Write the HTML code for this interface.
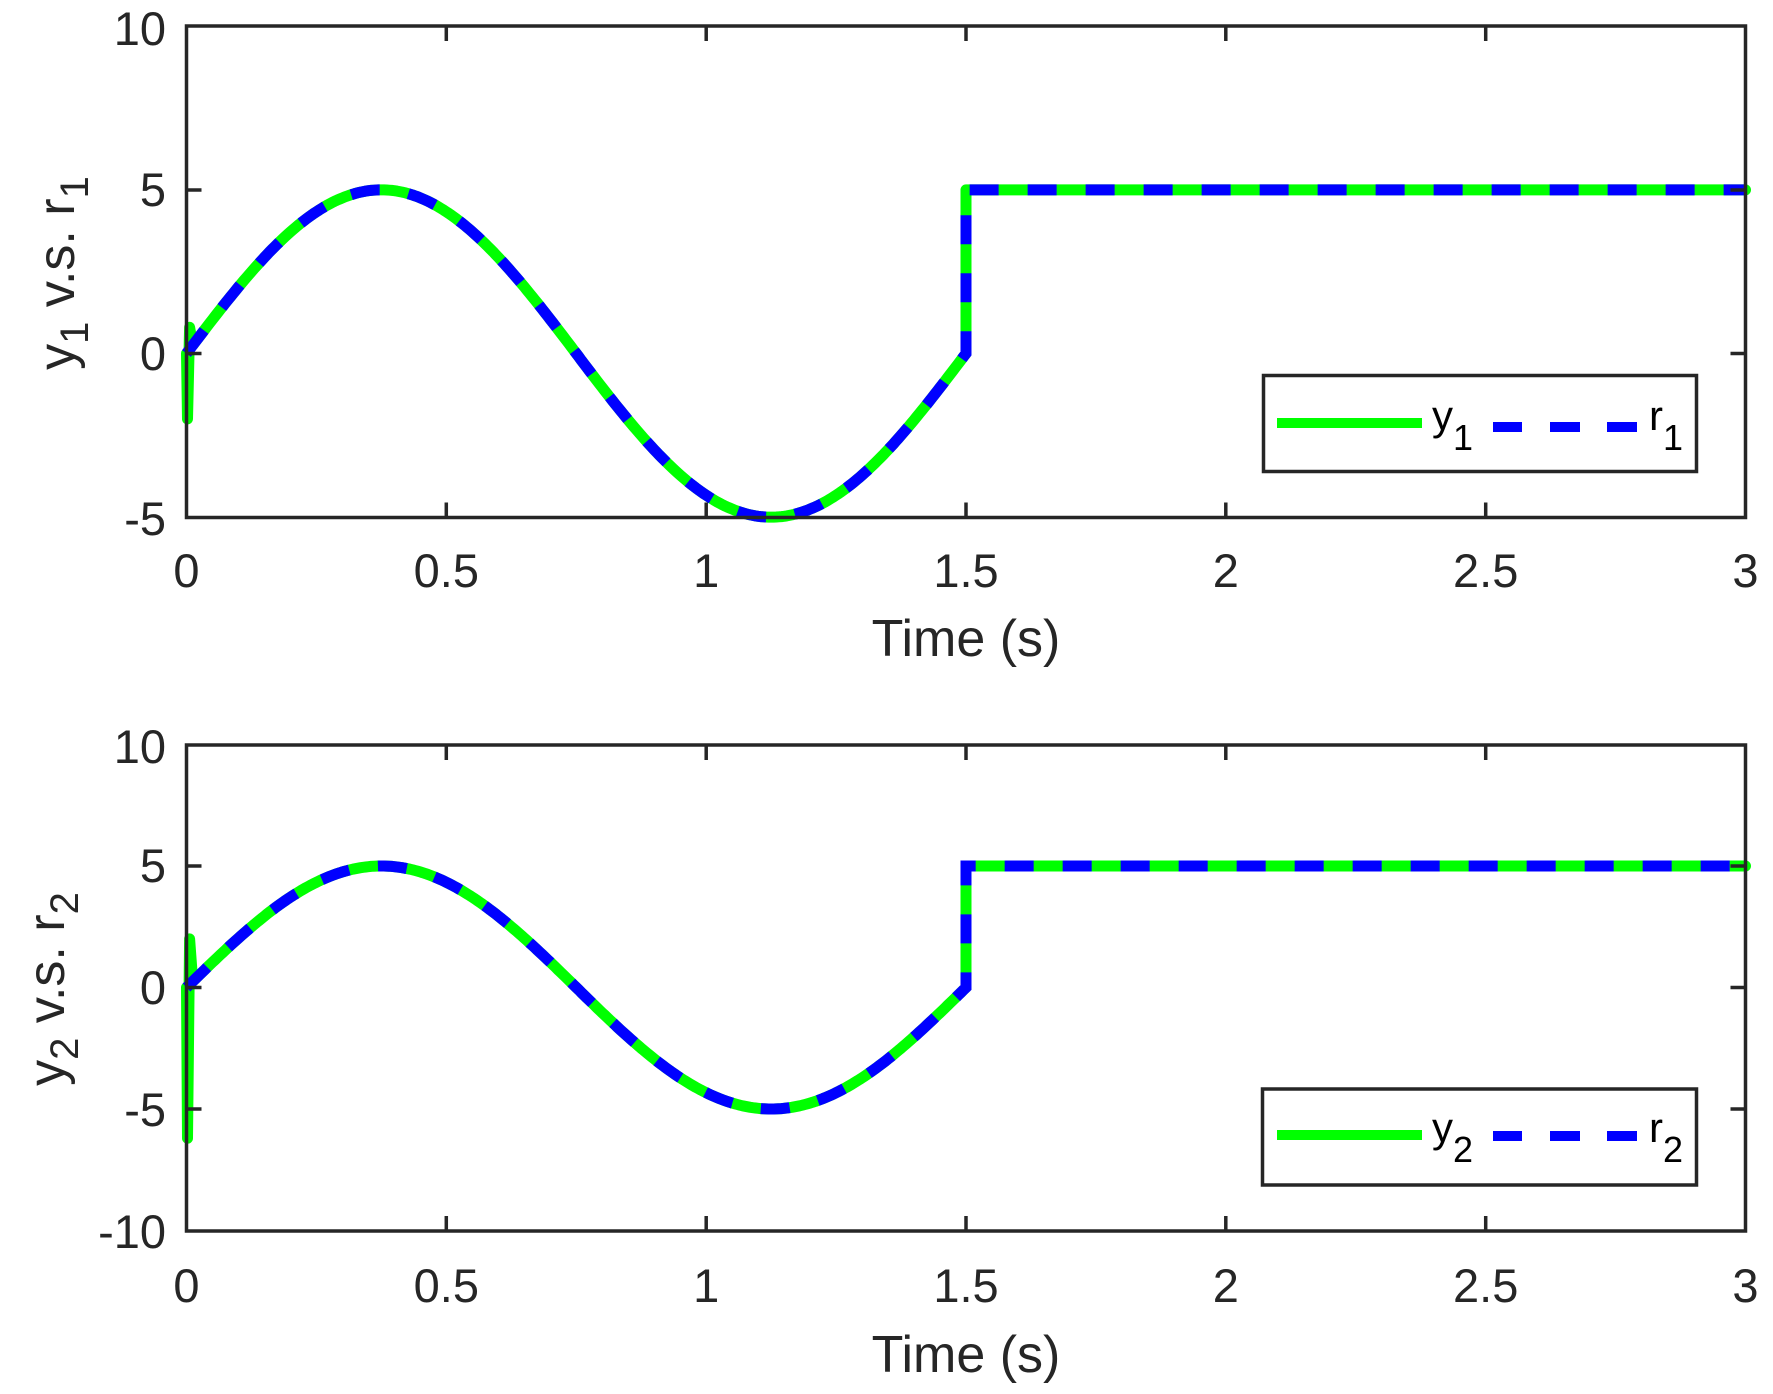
<!DOCTYPE html>
<html><head><meta charset="utf-8"><style>
html,body{margin:0;padding:0;background:#fff;}
svg{display:block;}
text{font-family:"Liberation Sans",Arial,sans-serif;fill:#262626;}
</style></head><body>
<svg id="s" width="1773" height="1394" viewBox="0 0 1773 1394" xmlns="http://www.w3.org/2000/svg">
<rect width="1773" height="1394" fill="#fff"/>
<g id="plots"></g>
<g stroke="#262626" stroke-width="3.5" fill="none">
<rect x="186.5" y="26" width="1559" height="491.5"/>
<path d="M446.3 517.5v-15M706.2 517.5v-15M966 517.5v-15M1225.8 517.5v-15M1485.7 517.5v-15
M446.3 26v15M706.2 26v15M966 26v15M1225.8 26v15M1485.7 26v15
M186.5 190h15M186.5 353.5h15M1745.5 190h-15M1745.5 353.5h-15"/>
<rect x="186.5" y="745" width="1559" height="486"/>
<path d="M446.3 1231v-15M706.2 1231v-15M966 1231v-15M1225.8 1231v-15M1485.7 1231v-15
M446.3 745v15M706.2 745v15M966 745v15M1225.8 745v15M1485.7 745v15
M186.5 866h15M186.5 987.5h15M186.5 1109h15M1745.5 866h-15M1745.5 987.5h-15M1745.5 1109h-15"/>
</g>
<g font-size="47" text-anchor="end">
<text x="166" y="45">10</text><text x="166" y="206">5</text><text x="166" y="370">0</text><text x="166" y="535">-5</text>
<text x="166" y="763">10</text><text x="166" y="882">5</text><text x="166" y="1004">0</text><text x="166" y="1126">-5</text><text x="166" y="1248">-10</text>
</g>
<g font-size="47" text-anchor="middle">
<text x="186.5" y="587">0</text><text x="446.3" y="587">0.5</text><text x="706.2" y="587">1</text><text x="966" y="587">1.5</text><text x="1225.8" y="587">2</text><text x="1485.7" y="587">2.5</text><text x="1745.5" y="587">3</text>
<text x="186.5" y="1302">0</text><text x="446.3" y="1302">0.5</text><text x="706.2" y="1302">1</text><text x="966" y="1302">1.5</text><text x="1225.8" y="1302">2</text><text x="1485.7" y="1302">2.5</text><text x="1745.5" y="1302">3</text>
</g>
<g font-size="52" text-anchor="middle">
<text x="966" y="656">Time (s)</text>
<text x="966" y="1372">Time (s)</text>
</g>
<g font-size="52" text-anchor="middle" style="fill:#404040">
<text transform="translate(74,273) rotate(-90)">y<tspan font-size="40" dy="14">1</tspan><tspan dy="-14"> v.s. r</tspan><tspan font-size="40" dy="14">1</tspan></text>
<text transform="translate(64,989) rotate(-90)">y<tspan font-size="40" dy="14">2</tspan><tspan dy="-14"> v.s. r</tspan><tspan font-size="40" dy="14">2</tspan></text>
</g>
<g>
<rect x="1263.5" y="375.5" width="433" height="96" fill="#fff" stroke="#262626" stroke-width="3.5"/>
<line x1="1277" y1="423" x2="1422" y2="423" stroke="#00ff00" stroke-width="10"/>
<path d="M1493 427h29M1550 427h30M1607 427h30" stroke="#0000ff" stroke-width="10"/>
<text x="1432" y="430" font-size="42" style="fill:#000">y<tspan font-size="36" dy="20">1</tspan></text>
<text x="1649" y="430" font-size="42" style="fill:#000">r<tspan font-size="36" dy="20">1</tspan></text>
<rect x="1262.5" y="1089" width="434" height="96" fill="#fff" stroke="#262626" stroke-width="3.5"/>
<line x1="1277" y1="1135" x2="1422" y2="1135" stroke="#00ff00" stroke-width="10"/>
<path d="M1493 1136h29M1550 1136h30M1607 1136h30" stroke="#0000ff" stroke-width="10"/>
<text x="1432" y="1142" font-size="42" style="fill:#000">y<tspan font-size="36" dy="20">2</tspan></text>
<text x="1649" y="1142" font-size="42" style="fill:#000">r<tspan font-size="36" dy="20">2</tspan></text>
</g>
</svg>
<script>
(function(){
var g=document.getElementById('plots');
var X=function(t){return 186.5+t*519.67;};
function build(y0,k,spikeLo,spikeHi){
 var Y=function(v){return y0-v*k;};
 var r=[],y=[];
 for(var i=0;i<=300;i++){var t=1.5*i/300;var v=5*Math.sin(2*Math.PI*t/1.5);r.push([X(t),Y(v)]);}
 r.push([X(1.5),Y(5)]);r.push([X(3),Y(5)]);
 y.push([X(0),Y(0)]);y.push([X(0.002),Y(spikeLo)]);y.push([X(0.006),Y(spikeHi)]);y.push([X(0.012),Y(5*Math.sin(2*Math.PI*0.012/1.5))]);
 for(var i=4;i<=300;i++){var t=1.5*i/300;y.push([X(t),Y(5*Math.sin(2*Math.PI*t/1.5))]);}
 y.push([X(1.5),Y(5)]);y.push([X(3),Y(5)]);
 function d(a){return 'M'+a.map(function(p){return p[0].toFixed(1)+' '+p[1].toFixed(1);}).join('L');}
 var ns='http://www.w3.org/2000/svg';
 var p1=document.createElementNS(ns,'path');p1.setAttribute('d',d(y));p1.setAttribute('fill','none');p1.setAttribute('stroke','#00ff00');p1.setAttribute('stroke-width','11');p1.setAttribute('stroke-linejoin','round');p1.setAttribute('stroke-linecap','round');g.appendChild(p1);
 var p2=document.createElementNS(ns,'path');p2.setAttribute('d',d(r));p2.setAttribute('fill','none');p2.setAttribute('stroke','#0000ff');p2.setAttribute('stroke-width','11');p2.setAttribute('stroke-dasharray','29 29');g.appendChild(p2);
}
build(353.5,32.73,-2,0.8);
build(987.5,24.3,-6.2,2);
})();
</script>
</body></html>
